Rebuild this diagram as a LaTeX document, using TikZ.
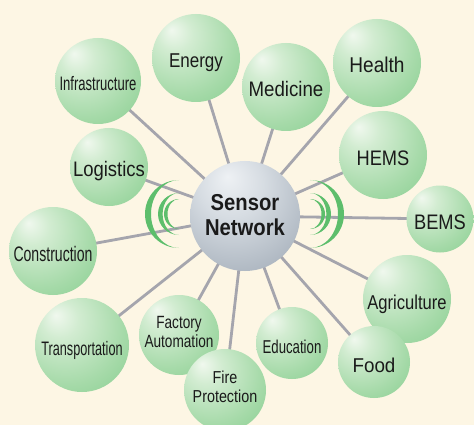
\documentclass[tikz,border=0pt]{standalone}
\usepackage{fontspec}
\setmainfont{Liberation Sans}
\usepackage{tikz}

\definecolor{cream}{HTML}{FDF6E4}
\definecolor{spoke}{HTML}{A5A5AD}
\definecolor{wave}{HTML}{5DBE6C}
\definecolor{ink}{HTML}{1A1A1A}
\definecolor{gLight}{HTML}{F0F8EE}
\definecolor{gPale}{HTML}{D2ECD1}
\definecolor{gMid}{HTML}{A6DAA9}
\definecolor{gDeep}{HTML}{7DCA87}
\definecolor{gDark}{HTML}{5CBA6B}
\definecolor{sLight}{HTML}{EEF1F4}
\definecolor{sPale}{HTML}{D6DCE2}
\definecolor{sMid}{HTML}{AFB8C2}
\definecolor{sDeep}{HTML}{8E99A5}
\definecolor{sDark}{HTML}{737F8C}

\pgfdeclareradialshading{greenball}{\pgfpoint{-14bp}{16bp}}{%
  color(0bp)=(gLight); color(10bp)=(gPale); color(30bp)=(gMid);
  color(50bp)=(gDeep); color(70bp)=(gDark)}
\pgfdeclareradialshading{greyball}{\pgfpoint{-8bp}{18bp}}{%
  color(0bp)=(sLight); color(15bp)=(sPale); color(35bp)=(sMid);
  color(55bp)=(sDeep); color(72bp)=(sDark)}

\pgfdeclarelayer{paper}
\pgfdeclarelayer{spokes}
\pgfsetlayers{paper,spokes,main}

% size, stretch, line skip
\newcommand{\lbl}[3]{\fontspec{Liberation Sans}[FakeStretch=#2]\fontsize{#1}{#3}\selectfont}

\begin{document}
\begin{tikzpicture}[x=1pt,y=-1pt]

  \useasboundingbox (0,0) rectangle (474,425);
  \begin{pgfonlayer}{paper}
    \fill[cream] (0,0) rectangle (474,425);
  \end{pgfonlayer}

  \begin{scope}[every node/.style={circle,inner sep=0pt,shading=greenball,text=ink,align=center},
      one/.style={text height=20pt,text depth=0pt},
      two/.style={text depth=6pt}]
    \node[one,minimum size=86pt,font=\lbl{19.5}{0.67}{21}] (infra) at (98,81) {Infrastructure};
    \node[one,minimum size=88pt,font=\lbl{20}{0.85}{21}] (energy) at (196,58) {Energy};
    \node[one,minimum size=88pt,font=\lbl{21}{0.89}{22}] (med) at (286,87) {Medicine};
    \node[one,minimum size=88pt,font=\lbl{21.4}{0.89}{22}] (health) at (377,63) {Health};
    \node[one,minimum size=88pt,font=\lbl{21}{0.87}{22}] (hems) at (383,155) {HEMS};
    \node[one,minimum size=67pt,font=\lbl{21}{0.87}{22}] (bems) at (440,219) {BEMS};
    \node[one,minimum size=88pt,font=\lbl{20}{0.83}{21}] (agri) at (407,299) {Agriculture};
    \node[one,minimum size=72pt,font=\lbl{20}{0.94}{21}] (food) at (374,362) {Food};
    \node[one,minimum size=72pt,font=\lbl{18.6}{0.71}{20}] (edu) at (292,343) {Education};
    \node[two,minimum size=80pt,font=\lbl{17.7}{0.77}{18.3}] (factory) at (179,335) {Factory\\Automation};
    \node[two,minimum size=82pt,font=\lbl{17.3}{0.83}{19}] (fire) at (225,390) {Fire\\Protection};
    \node[one,minimum size=94pt,font=\lbl{19.5}{0.65}{21}] (trans) at (82,345) {Transportation};
    \node[one,minimum size=88pt,font=\lbl{21}{0.67}{22}] (constr) at (53,251) {Construction};
    \node[one,minimum size=78pt,font=\lbl{21}{0.88}{22}] (logi) at (109,167) {Logistics};
    \node[shading=greyball,minimum size=110pt,text depth=2pt,
      font=\lbl{23}{0.88}{25}\bfseries] (sn) at (245,216) {Sensor\\Network};
  \end{scope}

  \coordinate (wl) at (179,214);
  \coordinate (wr) at (310,214);

  \begin{pgfonlayer}{spokes}
    \foreach \n in {infra,energy,med,health,hems,bems,agri,food,edu,factory,fire,trans,constr,logi}
      \draw[spoke,line width=2.8pt] (sn.center) -- (\n.center);
    % radio waves
    \foreach \r/\t in {34/6,21/4.6,15/3.5} {
      \fill[wave] (wl) ++(0,-\r) arc[start angle=270,end angle=90,radius=\r]
        arc[start angle=90,end angle=270,x radius=\r-\t,y radius=\r];
      \fill[wave] (wr) ++(0,-\r) arc[start angle=-90,end angle=90,radius=\r]
        arc[start angle=90,end angle=-90,x radius=\r-\t,y radius=\r];
    }
  \end{pgfonlayer}
\end{tikzpicture}
\end{document}
